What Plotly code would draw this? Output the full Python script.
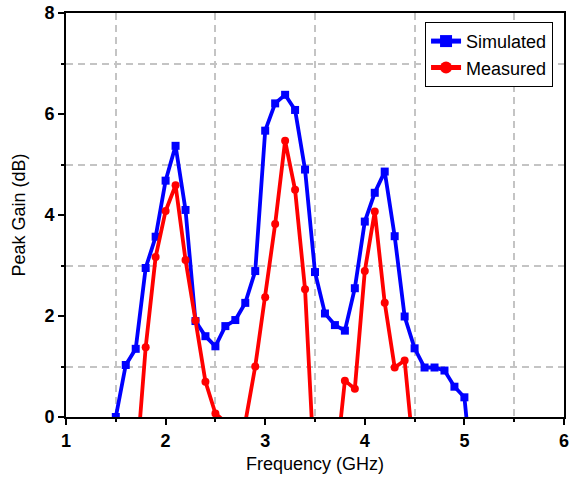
import plotly.graph_objects as go

# Simulated peak gain (dB) vs frequency (GHz)
sim_freq = [1.5, 1.6, 1.7, 1.8, 1.9, 2.0, 2.1, 2.2, 2.3, 2.4, 2.5, 2.6, 2.7, 2.8, 2.9,
            3.0, 3.1, 3.2, 3.3, 3.4, 3.5, 3.6, 3.7, 3.8, 3.9, 4.0, 4.1, 4.2, 4.3, 4.4,
            4.5, 4.6, 4.7, 4.8, 4.9, 5.0, 5.1]
sim_gain = [0.0, 1.03, 1.35, 2.95, 3.57, 4.68, 5.37, 4.10, 1.90, 1.60, 1.40, 1.80, 1.92, 2.26, 2.89,
            5.67, 6.21, 6.38, 6.08, 4.90, 2.87, 2.05, 1.82, 1.71, 2.55, 3.87, 4.44, 4.86, 3.58, 1.99,
            1.36, 0.98, 0.98, 0.92, 0.60, 0.39, -1.6]

# Measured peak gain (dB) vs frequency (GHz)
meas_freq = [1.7, 1.8, 1.9, 2.0, 2.1, 2.2, 2.3, 2.4, 2.5, 2.6, 2.7, 2.8, 2.9,
             3.0, 3.1, 3.2, 3.3, 3.4, 3.5, 3.6, 3.7, 3.8, 3.9, 4.0, 4.1, 4.2, 4.3, 4.4, 4.5]
meas_gain = [-1.13, 1.38, 3.17, 4.08, 4.59, 3.11, 1.91, 0.70, 0.07, -0.1, -0.5, -0.11, 1.0,
             2.37, 3.82, 5.47, 4.50, 2.53, -1.3, -3.0, -1.05, 0.72, 0.56, 2.89, 4.07, 2.26, 0.98, 1.12, -0.92]

x_range = [1, 6]
y_range = [0, 8]

fig = go.Figure()
fig.add_trace(go.Scatter(
    x=sim_freq, y=sim_gain, name="Simulated", mode="lines+markers",
    line=dict(color="#0000FF", width=3.8),
    marker=dict(symbol="square", size=8, color="#0000FF"),
))
fig.add_trace(go.Scatter(
    x=meas_freq, y=meas_gain, name="Measured", mode="lines+markers",
    line=dict(color="#FF0000", width=3.8),
    marker=dict(symbol="circle", size=8, color="#FF0000"),
))

font_family = "Arial, Liberation Sans, sans-serif"
axis_common = dict(
    showline=True, linecolor="black", linewidth=2, mirror=True,
    ticks="outside", ticklen=6, tickwidth=2, tickcolor="black",
    showgrid=False, zeroline=False, automargin=False,
    tickfont=dict(family=font_family, size=18, color="black", weight="bold"),
    title_font=dict(family=font_family, size=18, color="black"),
)
grid_minor = dict(showgrid=True, gridcolor="#C4C4C4", griddash="7px,5px", gridwidth=1.5,
                  ticks="outside", ticklen=3, tickwidth=1.5, tickcolor="black")

fig.update_xaxes(
    range=x_range, tickmode="linear", tick0=1, dtick=1,
    title_text="Frequency (GHz)", title_standoff=8,
    minor=dict(tick0=1, dtick=0.5, **grid_minor),
    **axis_common,
)
fig.update_yaxes(
    range=y_range, tickmode="linear", tick0=0, dtick=2,
    title_text="Peak Gain (dB)", title_standoff=14,
    minor=dict(tick0=0, dtick=1, **grid_minor),
    **axis_common,
)

fig.update_layout(
    width=571, height=482,
    margin=dict(l=66, r=7, t=13, b=65),
    plot_bgcolor="white", paper_bgcolor="white",
    font=dict(family=font_family, size=18, color="black"),
    legend=dict(
        x=0.978, y=0.978, xanchor="right", yanchor="top",
        bgcolor="white", bordercolor="black", borderwidth=1,
        font=dict(family=font_family, size=18, color="black"),
        tracegroupgap=0, itemsizing="constant",
    ),
    showlegend=True,
)

fig.write_html(
    "out.html",
    config={"displayModeBar": False},
    post_script="document.body.style.margin='0';document.body.style.overflow='hidden';",
)
